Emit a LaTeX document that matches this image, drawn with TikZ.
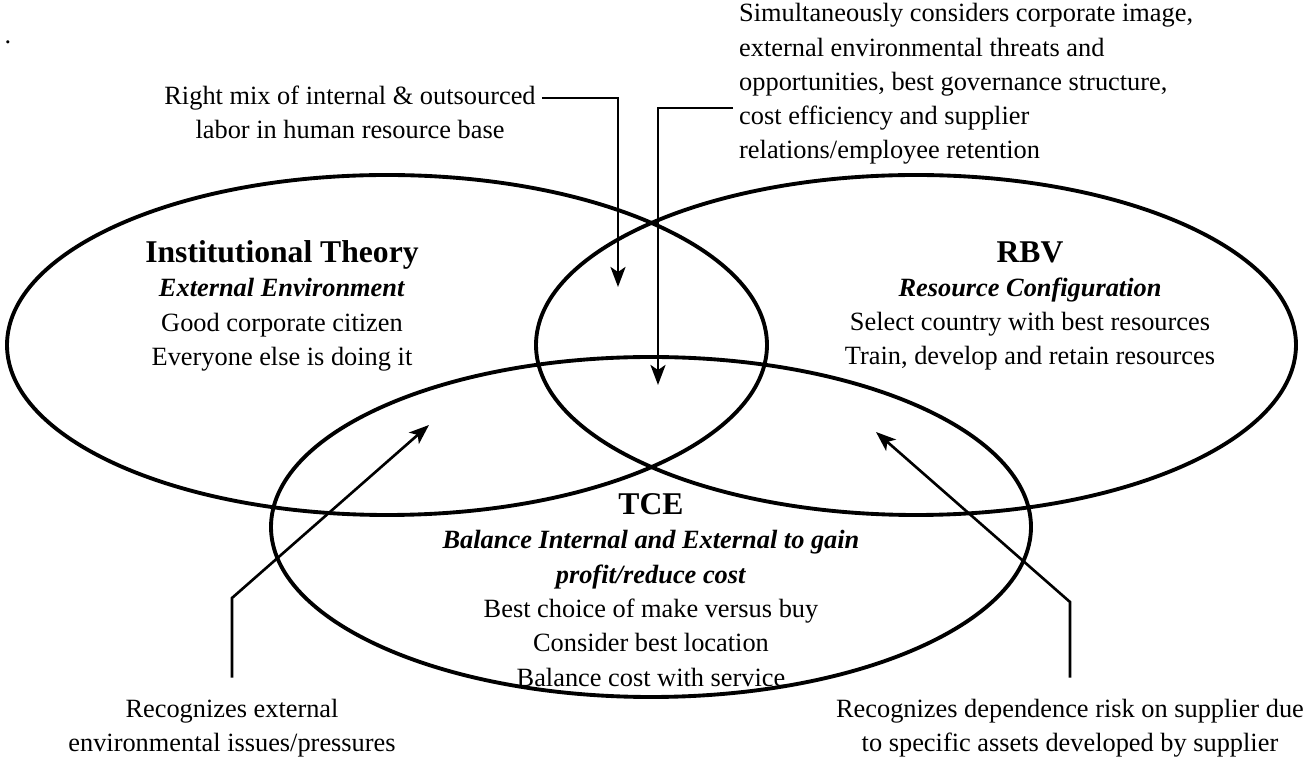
\documentclass[tikz,border=0pt]{standalone}
\usepackage{fontspec}
\setmainfont{Liberation Serif}
\usetikzlibrary{arrows.meta}
\usetikzlibrary{shapes.geometric}
\tikzset{
theory/.style={draw, ellipse, line width=2.2pt, inner sep=0pt, minimum width=15.2cm, minimum height=6.8cm},
notes/.style={align=center, font=\fontsize{15}{19.5}\selectfont},
pointer/.style={line width=1.5pt, -{Stealth[length=0.4cm, width=0.3cm, inset=0.1cm]}},
}
\newcommand{\theoryhead}{\fontsize{18}{22}\selectfont\bfseries}

\begin{document}
\begin{tikzpicture}
		\useasboundingbox (0,0) rectangle (26.14,15.18);
		\node [style=theory] (0) at (7.74, 8.28) {};
		\node [style=theory] (1) at (18.32, 8.28) {};
		\node [style=theory] (2) at (13.02, 4.64) {};
		\node [style=notes] (4) at (5.64, 9.06) {{\theoryhead Institutional Theory}\\ \textbf{\textit{External Environment}}\\ Good corporate citizen\\ Everyone else is doing it};
		\node [style=notes] (5) at (20.6, 9.06) {{\theoryhead RBV}\\ \textbf{\textit{Resource Configuration}}\\ Select country with best resources\\ Train, develop and retain resources};
		\node [style=notes] (6) at (13.02, 3.38) {{\theoryhead TCE}\\ \textbf{\textit{Balance Internal and External to gain}}\\ \textbf{\textit{profit/reduce cost}}\\ Best choice of make versus buy\\ Consider best location\\ Balance cost with service};
		\node [style=notes] (7) at (7.0, 12.94) {Right mix of internal \& outsourced\\ labor in human resource base};
		\node [style=notes, align=left, anchor=west] (8) at (14.66, 13.5) {Simultaneously considers corporate image,\\ external environmental threats and\\ opportunities, best governance structure,\\ cost efficiency and supplier\\ relations/employee retention};
		\node [style=notes] (9) at (4.64, 0.62) {Recognizes external\\ environmental issues/pressures};
		\node [style=notes] (10) at (21.4, 0.62) {Recognizes dependence risk on supplier due\\ to specific assets developed by supplier};
		\node [style=notes] (11) at (0.16, 14.34) {.};
		\coordinate (12) at (12.36, 9.44);
		\coordinate (13) at (13.16, 7.48);
		\coordinate (14) at (4.64, 3.22);
		\coordinate (15) at (8.58, 6.68);
		\coordinate (16) at (21.4, 3.14);
		\coordinate (17) at (17.52, 6.54);
		\draw [style=pointer] ([yshift=0.28cm]7.east) -| (12);
		\draw [style=pointer] ([yshift=-0.48cm]8.west) -| (13);
		\draw [style=pointer] ([yshift=0.3cm]9.north) to (14) to (15);
		\draw [style=pointer] ([yshift=0.3cm]10.north) to (16) to (17);
	\end{tikzpicture}
\end{document}
